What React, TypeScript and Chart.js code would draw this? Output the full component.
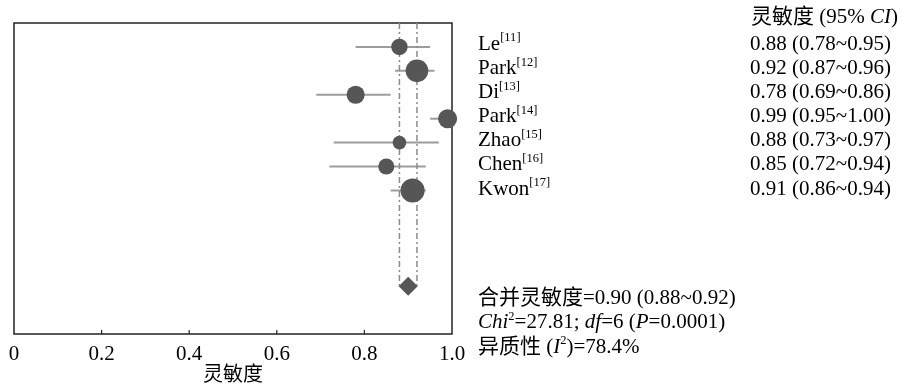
import React, { useEffect, useRef } from "react";
import { Chart, registerables } from "chart.js";

Chart.register(...registerables);

// ---- data ----
const studyNames = ["Le", "Park", "Di", "Park", "Zhao", "Chen", "Kwon"];
const studyRefs = ["11", "12", "13", "14", "15", "16", "17"];
const sensitivity = [0.88, 0.92, 0.78, 0.99, 0.88, 0.85, 0.91];
const ciLower = [0.78, 0.87, 0.69, 0.95, 0.73, 0.72, 0.86];
const ciUpper = [0.95, 0.96, 0.86, 1.0, 0.97, 0.94, 0.94];
const studyWeights = [10.8, 20.6, 13.1, 14.5, 7.4, 10.3, 23.2];
const pooledValue = 0.9;
const pooledLower = 0.88;
const pooledUpper = 0.92;
const xTickValues = [0, 0.2, 0.4, 0.6, 0.8, 1.0];
const xTickLabels = ["0", "0.2", "0.4", "0.6", "0.8", "1.0"];
const xAxisTitle = "灵敏度";
const headerLabel = "灵敏度 (95% ";
const summaryPooled = "合并灵敏度=0.90 (0.88~0.92)";

const FONT = '"Liberation Serif", "Times New Roman", "Noto Sans CJK SC", serif';
const POOLED_ROW = 10;
const MARK = "#565656";

const fmt = (v: number) => v.toFixed(2);

const frameAndTicks = {
  id: "frameAndTicks",
  beforeDatasetsDraw(chart: any) {
    const { ctx, chartArea } = chart;
    const xs = chart.scales.x;
    ctx.save();
    ctx.strokeStyle = "#222";
    ctx.lineWidth = 1.5;
    ctx.strokeRect(chartArea.left, chartArea.top, chartArea.right - chartArea.left, chartArea.bottom - chartArea.top);
    ctx.lineWidth = 1.2;
    xTickValues.forEach((v) => {
      if (v <= 0 || v >= 1) return;
      const px = xs.getPixelForValue(v);
      ctx.beginPath();
      ctx.moveTo(px, chartArea.bottom);
      ctx.lineTo(px, chartArea.bottom - 4);
      ctx.stroke();
    });
    ctx.restore();
  },
};

function ForestChart() {
  const ref = useRef<HTMLCanvasElement | null>(null);
  useEffect(() => {
    if (!ref.current) return;
    const ciSets = sensitivity.map((_, i) => ({
      type: "line" as const,
      data: [
        { x: ciLower[i], y: i },
        { x: ciUpper[i], y: i },
      ],
      borderColor: "#9c9c9c",
      borderWidth: 2,
      pointRadius: 0,
      showLine: true,
      order: 3,
    }));
    const refLines = [pooledLower, pooledUpper].map((v) => ({
      type: "line" as const,
      data: [
        { x: v, y: -1 },
        { x: v, y: POOLED_ROW },
      ],
      borderColor: "#8c8c8c",
      borderWidth: 1.5,
      borderDash: [6, 3, 2, 3],
      pointRadius: 0,
      showLine: true,
      order: 2,
    }));
    const chart = new Chart(ref.current, {
      type: "scatter",
      data: {
        datasets: [
          {
            data: sensitivity.map((v, i) => ({ x: v, y: i })),
            pointRadius: studyWeights.map((w) => Math.sqrt(w) * 2.5),
            pointBackgroundColor: MARK,
            pointBorderWidth: 0,
            clip: false as any,
            order: 0,
          } as any,
          {
            data: [{ x: pooledValue, y: POOLED_ROW }],
            pointStyle: "rectRot",
            pointRadius: 9.5,
            pointBackgroundColor: MARK,
            pointBorderWidth: 0,
            order: 0,
          } as any,
          ...ciSets,
          ...refLines,
        ],
      },
      options: {
        animation: false,
        responsive: false,
        events: [],
        layout: { padding: { left: 14, right: 450, top: 23, bottom: 0 } },
        plugins: { legend: { display: false }, tooltip: { enabled: false } },
        scales: {
          x: {
            type: "linear",
            min: 0,
            max: 1,
            grid: { display: false },
            border: { display: false },
            afterBuildTicks: (s: any) => {
              s.ticks = xTickValues.map((v) => ({ value: v }));
            },
            ticks: {
              font: { family: FONT, size: 21 },
              color: "#000",
              padding: 0,
              maxRotation: 0,
              autoSkip: false,
              callback: (_v: any, i: number) => xTickLabels[i],
            },
            title: {
              display: true,
              text: xAxisTitle,
              font: { family: FONT, size: 20 },
              color: "#000",
              padding: { top: 0, bottom: -3 },
            },
            afterFit: (s: any) => {
              s.height = 51;
            },
          },
          y: { type: "linear", display: false, min: -1, max: 12, reverse: true },
        },
      },
      plugins: [frameAndTicks],
    } as any);
    return () => chart.destroy();
  }, []);
  return <canvas ref={ref} width={902} height={385} style={{ display: "block", width: 902, height: 385 }} />;
}

const FS = 21;
const ROW0_BASE = 50;
const ROW_STEP = 24.1;
const BASE_OFF = (24 - 1.107 * FS) / 2 + 0.891 * FS;

const textStyle = (left: number, baseline: number): React.CSSProperties => ({
  position: "absolute",
  left,
  top: baseline - BASE_OFF,
  fontFamily: FONT,
  fontSize: FS,
  lineHeight: "24px",
  whiteSpace: "nowrap",
  color: "#000",
});

const supStyle: React.CSSProperties = { fontSize: 12.5, position: "relative", top: -8.5 };

export default function App() {
  return (
    <div style={{ position: "absolute", left: 0, top: 0, width: 902, height: 385, background: "#fff", overflow: "hidden" }}>
      <ForestChart />
      <div style={textStyle(751, 23)}>
        {headerLabel}
        <i>CI</i>)
      </div>
      {studyNames.map((n, i) => (
        <div key={"n" + i} style={textStyle(478, ROW0_BASE + i * ROW_STEP)}>
          {n}
          <span style={supStyle}>[{studyRefs[i]}]</span>
        </div>
      ))}
      {sensitivity.map((v, i) => (
        <div key={"v" + i} style={textStyle(750, ROW0_BASE + i * ROW_STEP)}>
          {fmt(v)} ({fmt(ciLower[i])}~{fmt(ciUpper[i])})
        </div>
      ))}
      <div style={textStyle(478, 304)}>{summaryPooled}</div>
      <div style={textStyle(478, 328.5)}>
        <i>Chi</i>
        <span style={supStyle}>2</span>=27.81; <i>df</i>=6 (<i>P</i>=0.0001)
      </div>
      <div style={textStyle(478, 353)}>
        异质性 (<i>I</i>
        <span style={supStyle}>2</span>)=78.4%
      </div>
    </div>
  );
}
